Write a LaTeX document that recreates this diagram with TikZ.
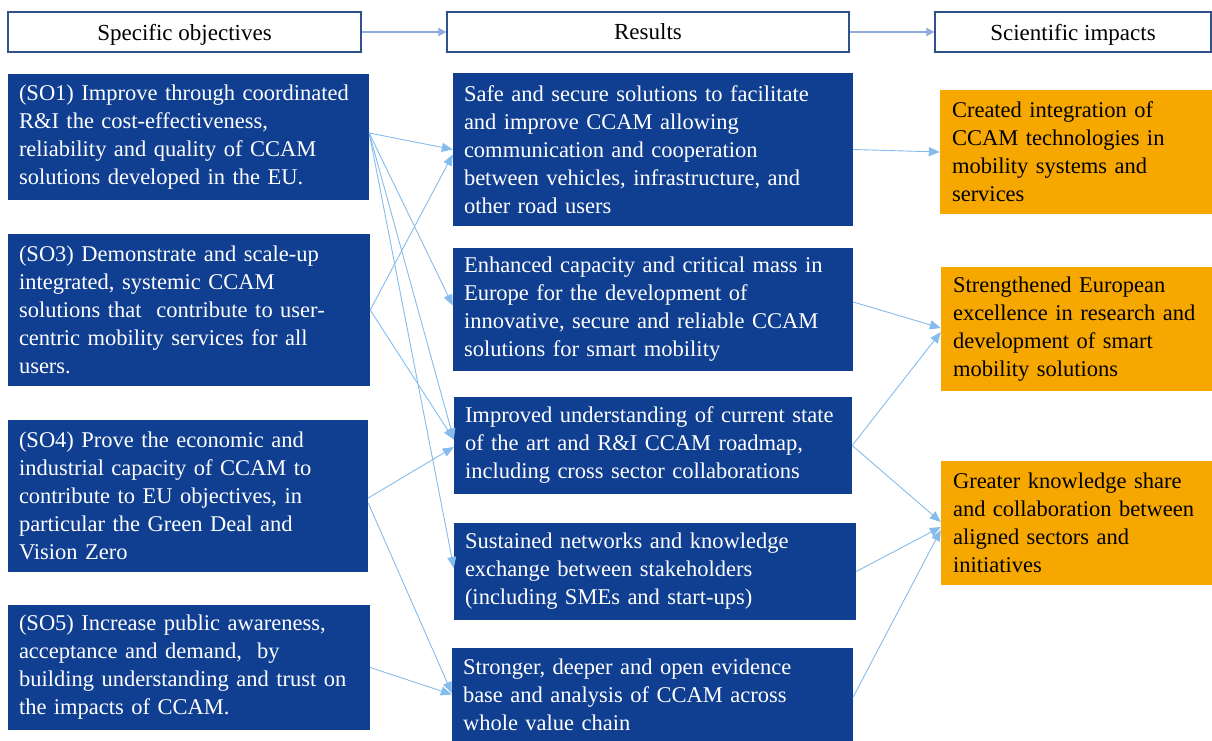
\documentclass[tikz,border=0pt]{standalone}
\usepackage{fontspec}
\setmainfont{Liberation Serif}
\usetikzlibrary{arrows.meta}
\definecolor{boxblue}{RGB}{16,63,145}
\definecolor{boxorange}{RGB}{247,168,0}
\definecolor{linkblue}{RGB}{133,188,236}
\definecolor{hdrline}{RGB}{47,82,143}
\definecolor{hdrarrow}{RGB}{143,170,220}
\begin{document}
\begin{tikzpicture}[x=1pt,y=-1pt,
  txt/.style={font=\fontsize{22.5}{28}\selectfont},
  hdr/.style={draw=hdrline, line width=1.2pt, fill=white, font=\fontsize{23}{28}\selectfont, minimum height=40pt, inner sep=0pt, text depth=0pt},
  blu/.style={fill=boxblue, text=white, txt, align=left, inner xsep=11pt, inner ysep=0pt},
  org/.style={fill=boxorange, text=black, txt, align=left, inner xsep=12pt, inner ysep=0pt},
  link/.style={draw=linkblue, line width=0.9pt, -{Triangle[length=11pt,width=9pt]}},
  harrow/.style={draw=hdrarrow, line width=1.6pt, -{Triangle[length=8pt,width=8pt]}}
]
\useasboundingbox (0,0) rectangle (1212,741);

% headers
\node[hdr, minimum width=353pt] (h1) at (184.5,32) {Specific objectives};
\node[hdr, minimum width=402pt] (h2) at (648,32) {Results};
\node[hdr, minimum width=276pt] (h3) at (1073,32) {Scientific impacts};
\draw[harrow] (h1.east) -- (h2.west);
\draw[harrow] (h2.east) -- (h3.west);

% specific objectives
\node[blu, text width=339pt, minimum height=126pt] (so1) at (188.5,137)
 {(SO1) Improve through coordinated\\R\&I the cost-effectiveness,\\reliability and quality of CCAM\\solutions developed in the EU.};
\node[blu, text width=340pt, minimum height=152pt] (so3) at (189,310)
 {(SO3) Demonstrate and scale-up\\integrated, systemic CCAM\\solutions that\ \ contribute to user-\\centric mobility services for all\\users.};
\node[blu, text width=338pt, minimum height=152pt] (so4) at (188,496)
 {(SO4) Prove the economic and\\industrial capacity of CCAM to\\contribute to EU objectives, in\\particular the Green Deal and\\Vision Zero};
\node[blu, text width=340pt, minimum height=125pt] (so5) at (189,667.5)
 {(SO5) Increase public awareness,\\acceptance and demand,\ \ by\\building understanding and trust on\\the impacts of CCAM.};

% results
\node[blu, text width=378pt, minimum height=153pt] (r1) at (653,149.5)
 {Safe and secure solutions to facilitate\\and improve CCAM allowing\\communication and cooperation\\between vehicles, infrastructure, and\\other road users};
\node[blu, text width=378pt, minimum height=123pt] (r2) at (653,309.5)
 {Enhanced capacity and critical mass in\\Europe for the development of\\innovative, secure and reliable CCAM\\solutions for smart mobility};
\node[blu, text width=376pt, minimum height=97pt] (r3) at (653,445.5)
 {Improved understanding of current state\\of the art and R\&I CCAM roadmap,\\including cross sector collaborations};
\node[blu, text width=380pt, minimum height=97pt] (r4) at (655,571.5)
 {Sustained networks and knowledge\\exchange between stakeholders\\(including SMEs and start-ups)};
\node[blu, text width=379pt, minimum height=93pt] (r5) at (652.5,694.5)
 {Stronger, deeper and open evidence\\base and analysis of CCAM across\\whole value chain};

% impacts
\node[org, text width=248pt, minimum height=124pt] (i1) at (1076,152)
 {Created integration of\\CCAM technologies in\\mobility systems and\\services};
\node[org, text width=247pt, minimum height=124pt] (i2) at (1076.5,329)
 {Strengthened European\\excellence in research and\\development of smart\\mobility solutions};
\node[org, text width=247pt, minimum height=124pt] (i3) at (1076.5,523)
 {Greater knowledge share\\and collaboration between\\aligned sectors and\\initiatives};

% objectives -> results
\draw[link] ([yshift=4pt]so1.east) -- (r1.west);
\draw[link] ([yshift=4pt]so1.east) -- ([yshift=4pt]r2.west);
\draw[link] ([yshift=4pt]so1.east) -- ([yshift=6pt]r3.west);
\draw[link] ([yshift=4pt]so1.east) -- ([yshift=3.5pt]r4.west);
\draw[link] (so3.east) -- ([yshift=-5pt]r1.west);
\draw[link] (so3.east) -- ([yshift=6pt]r3.west);
\draw[link] ([yshift=-2pt]so4.east) -- ([yshift=-1.5pt]r3.west);
\draw[link] ([yshift=-7pt]so4.east) -- ([yshift=1.5pt]r5.west);
\draw[link] (so5.east) -- (r5.west);

% results -> impacts
\draw[link] (r1.east) -- (i1.west);
\draw[link] ([yshift=7.5pt]r2.east) -- ([yshift=1pt]i2.west);
\draw[link] (r3.east) -- ([yshift=-3pt]i2.west);
\draw[link] (r3.east) -- ([yshift=1pt]i3.west);
\draw[link] (r4.east) -- ([yshift=-4pt]i3.west);
\draw[link] ([yshift=-2.5pt]r5.east) -- ([yshift=-7pt]i3.west);
\end{tikzpicture}
\end{document}
